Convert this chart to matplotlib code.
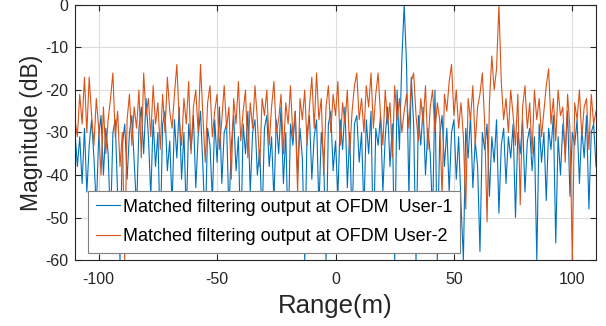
import numpy as np
import matplotlib
matplotlib.use('Agg')
import matplotlib.pyplot as plt

# range axis, 1 m steps
range_m = np.arange(-110, 111)

# matched filter output, user 1 (dB)
user1_db = [
    -30, -38, -31, -42, -29, -44, -33, -27, -36, -48, -31, -26, -40, -29, -35, -52, -30, -27, -45, -60,
    -33, -28, -41, -30, -26, -37, -48, -29, -24, -35, -22, -31, -45, -27, -38, -30, -55, -28, -25, -39,
    -32, -47, -27, -36, -24, -41, -30, -50, -28, -34, -26, -43, -31, -25, -38, -53, -29, -33, -46, -27,
    -37, -24, -42, -30, -28, -49, -33, -26, -39, -31, -57, -28, -35, -25, -44, -30, -27, -40, -34, -51,
    -29, -26, -38, -31, -46, -27, -35, -24, -42, -30, -55, -28, -33, -25, -40, -29, -36, -60, -30, -26,
    -41, -31, -27, -48, -30, -36, -60, -28, -25, -39, -32, -45, -27, -34, -24, -43, -30, -52, -28, -26,
    -37, -30, -49, -27, -35, -25, -58, -29, -33, -26, -44, -31, -24, -38, -28, -60, -20, -34, -13, 0,
    -14, -45, -17, -28, -60, -26, -33, -24, -40, -29, -35, -50, -20, -60, -31, -26, -38, -29, -44, -30,
    -27, -41, -31, -47, -60, -29, -36, -26, -43, -32, -38, -58, -30, -34, -28, -45, -31, -37, -27, -49,
    -33, -29, -42, -31, -36, -28, -50, -30, -35, -27, -44, -32, -29, -39, -31, -60, -28, -37, -30, -46,
    -29, -34, -26, -56, -31, -40, -28, -35, -25, -45, -30, -33, -27, -42, -29, -36, -26, -48, -30, -28, -38,
]

# matched filter output, user 2 (dB)
user2_db = [
    -27, -31, -21, -28, -17, -30, -17, -26, -33, -22, -29, -40, -24, -35, -27, -22, -16, -31, -25, -38,
    -30, -60, -27, -21, -33, -24, -29, -20, -36, -16, -26, -22, -31, -19, -28, -23, -34, -21, -30, -17,
    -25, -29, -21, -14, -27, -33, -22, -28, -18, -35, -24, -20, -30, -14, -26, -37, -23, -19, -31, -25,
    -21, -34, -27, -19, -29, -24, -41, -22, -28, -18, -32, -25, -20, -36, -23, -29, -19, -27, -38, -22,
    -26, -20, -33, -24, -18, -30, -27, -21, -35, -23, -28, -19, -31, -25, -44, -22, -27, -20, -33, -24,
    -17, -29, -16, -27, -22, -40, -24, -19, -30, -21, -26, -18, -33, -23, -28, -20, -35, -25, -19, -16,
    -27, -22, -30, -19, -24, -16, -29, -21, -16, -26, -33, -20, -28, -23, -36, -19, -27, -22, -30, -25,
    -21, -29, -18, -16, -26, -32, -22, -28, -19, -34, -24, -20, -30, -23, -27, -45, -21, -25, -18, -14,
    -26, -20, -29, -23, -31, -48, -22, -27, -19, -33, -24, -21, -16, -28, -51, -23, -12, -20, -15, 0,
    -18, -27, -22, -30, -20, -26, -33, -21, -47, -24, -19, -29, -23, -35, -20, -27, -22, -31, -25, -19,
    -15, -28, -22, -32, -20, -26, -24, -37, -21, -29, -60, -23, -27, -20, -31, -24, -22, -34, -21, -28, -25,
]

labels = ['Matched filtering output at OFDM  User-1',
          'Matched filtering output at OFDM User-2']

plt.rcParams['font.family'] = ['Liberation Sans', 'DejaVu Sans']
plt.rcParams['axes.unicode_minus'] = False
dark = '#262626'

fig = plt.figure(figsize=(6.06, 3.26), dpi=100)
ax = fig.add_axes([75 / 606, 66 / 326, 521 / 606, 255 / 326])

ax.plot(range_m, user1_db, color='#0072BD', lw=0.8, label=labels[0])
ax.plot(range_m, user2_db, color='#D95319', lw=0.8, label=labels[1])

ax.set_xlim(-110, 110)
ax.set_ylim(-60, 0)
ax.set_xticks([-100, -50, 0, 50, 100])
ax.set_yticks([0, -10, -20, -30, -40, -50, -60])
ax.grid(True, color='#dcdcdc', lw=0.8)
ax.set_axisbelow(True)
ax.tick_params(direction='in', top=True, right=True, labelsize=11.5,
               colors=dark, length=4)
ax.tick_params(axis='x', pad=9)
ax.tick_params(axis='y', pad=4.5)
for s in ax.spines.values():
    s.set_color(dark)
    s.set_linewidth(0.8)

ax.set_xlabel('Range(m)', fontsize=18.5, color=dark, labelpad=5)
ax.set_ylabel('Magnitude (dB)', fontsize=16.5, color=dark)
ax.yaxis.set_label_coords(-0.0614, 0.5)

leg = ax.legend(loc='lower left', bbox_to_anchor=(0.025, 0.027), borderaxespad=0,
                fontsize=13, fancybox=False, framealpha=1, edgecolor='#7f7f7f',
                handlelength=1.3, handletextpad=0.17,
                labelspacing=0.68, borderpad=0.45)
leg.get_frame().set_linewidth(0.8)

plt.savefig('out.png', dpi=100)
plt.close()
